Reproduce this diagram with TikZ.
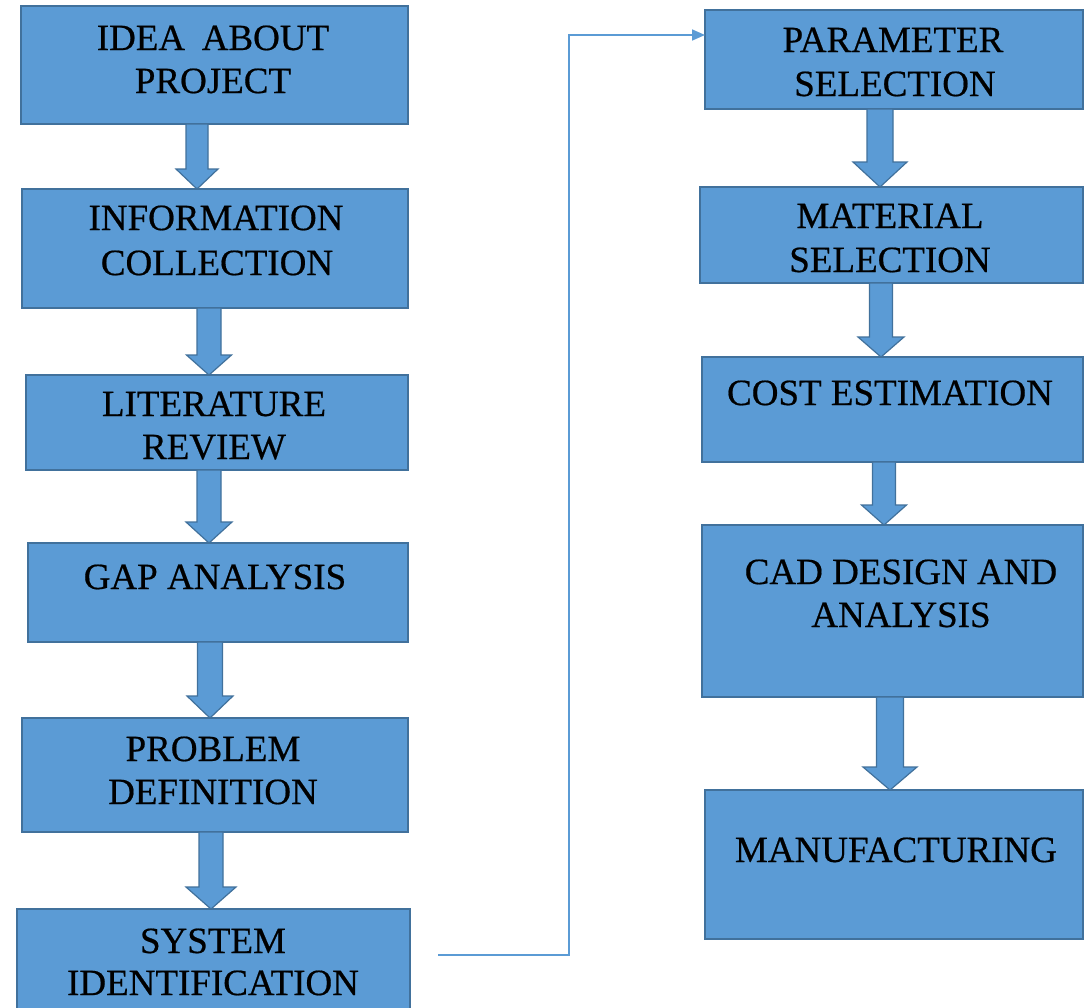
\documentclass[tikz,border=0pt]{standalone}
\usepackage{fontspec}
\setmainfont{Liberation Serif}
\newfontfamily\boxfont[FakeBold=0.5]{Liberation Serif}
\usetikzlibrary{calc,arrows.meta}
\definecolor{boxfill}{HTML}{5B9BD5}
\definecolor{boxline}{HTML}{41719C}
\definecolor{linkcol}{HTML}{5B9BD5}
\tikzset{
  stepbox/.style={draw=boxline, fill=boxfill, line width=1.5pt, rectangle, inner sep=0pt, outer sep=0pt, anchor=north west},
  txt/.style={font=\boxfont\fontsize{37}{44}\selectfont, text=black, inner sep=0pt, anchor=base},
  barrowstyle/.style={draw=boxline, fill=boxfill, line width=1.2pt, line join=miter},
  link/.style={draw=linkcol, line width=1.6pt, -{Triangle[length=13pt,width=11pt]}}
}
% from, to, centre x, shaft half width, head half width, head length
\newcommand\blockarr[6]{%
  \coordinate (#1#2x) at (#3,0);
  \draw[barrowstyle]
    ($(#1.south -| #1#2x)+(-#4,0)$) -- ($(#1.south -| #1#2x)+(#4,0)$)
    -- ($(#2.north -| #1#2x)+(#4,-#6)$) -- ($(#2.north -| #1#2x)+(#5,-#6)$)
    -- (#2.north -| #1#2x)
    -- ($(#2.north -| #1#2x)+(-#5,-#6)$) -- ($(#2.north -| #1#2x)+(-#4,-#6)$) -- cycle;
}
\begin{document}
\begin{tikzpicture}[x=1pt,y=-1pt]
\useasboundingbox (0,0) rectangle (1084,1007);
\clip (0,0) rectangle (1084,1007);
\fill[white] (0,0) rectangle (1084,1007);
% left column
\node[stepbox, minimum width=387, minimum height=118] (b1) at (21,6) {};
\node[stepbox, minimum width=386, minimum height=119] (b2) at (22,189) {};
\node[stepbox, minimum width=382, minimum height=95]  (b3) at (26,375) {};
\node[stepbox, minimum width=380, minimum height=99]  (b4) at (28,543) {};
\node[stepbox, minimum width=386, minimum height=114] (b5) at (22,718) {};
\node[stepbox, minimum width=393, minimum height=105] (b6) at (17,909) {};
% right column
\node[stepbox, minimum width=378, minimum height=99]  (b7) at (705,10) {};
\node[stepbox, minimum width=383, minimum height=96]  (b8) at (700,187) {};
\node[stepbox, minimum width=381, minimum height=105] (b9) at (702,357) {};
\node[stepbox, minimum width=381, minimum height=172] (b10) at (702,525) {};
\node[stepbox, minimum width=378, minimum height=149] (b11) at (705,790) {};
% texts
\node[txt] (t1a) at (213,50) {IDEA\hspace{0.45em}ABOUT};
\node[txt] (t1b) at (213,93) {PROJECT};
\node[txt] (t2a) at (216,230) {INFORMATION};
\node[txt] (t2b) at (217,275) {COLLECTION};
\node[txt] (t3a) at (214,416) {LITERATURE};
\node[txt] (t3b) at (214,459) {REVIEW};
\node[txt] (t4a) at (215,589) {GAP ANALYSIS};
\node[txt] (t5a) at (213,761) {PROBLEM};
\node[txt] (t5b) at (213,804) {DEFINITION};
\node[txt] (t6a) at (213,953) {SYSTEM};
\node[txt] (t6b) at (213,995) {IDENTIFICATION};
\node[txt] (t7a) at (893,52) {PARAMETER};
\node[txt] (t7b) at (895,96) {SELECTION};
\node[txt] (t8a) at (890,228) {MATERIAL};
\node[txt] (t8b) at (890,272) {SELECTION};
\node[txt] (t9a) at (890,405) {COST ESTIMATION};
\node[txt] (t10a) at (901,584) {CAD DESIGN AND};
\node[txt] (t10b) at (901,627) {ANALYSIS};
\node[txt] (t11a) at (896,862) {MANUFACTURING};
% block arrows
\blockarr{b1}{b2}{197}{11}{21}{20}
\blockarr{b2}{b3}{209}{12}{22.5}{20}
\blockarr{b3}{b4}{209}{12}{23}{21}
\blockarr{b4}{b5}{210}{12.5}{23}{22}
\blockarr{b5}{b6}{211}{12}{25}{22}
\blockarr{b7}{b8}{880}{13}{27}{25}
\blockarr{b8}{b9}{881}{11.5}{23}{20}
\blockarr{b9}{b10}{884}{11.5}{22.5}{20}
\blockarr{b10}{b11}{890}{13.5}{27}{23}
% connector
\coordinate (cs) at (438,955);
\coordinate (cy) at (0,35);
\coordinate (cx) at (569,0);
\draw[link] (cs) -| (cx |- cy) -- (b7.west |- cy);
\end{tikzpicture}
\end{document}
